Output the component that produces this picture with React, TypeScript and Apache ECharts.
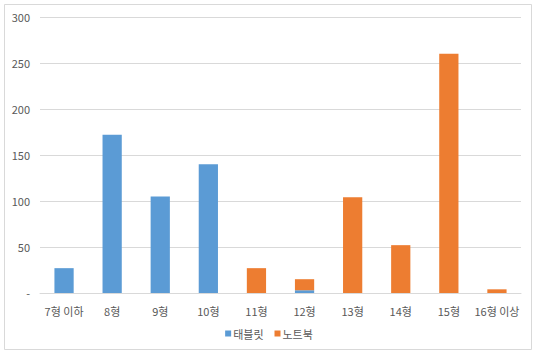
import React, { useEffect, useRef } from "react";
import * as echarts from "echarts";

const categories = ["7형 이하", "8형", "9형", "10형", "11형", "12형", "13형", "14형", "15형", "16형 이상"];
const tabletValues = [27, 172, 105, 140, 0, 3, 0, 0, 0, 0];
const notebookValues = [0, 0, 0, 0, 27, 12, 104, 52, 260, 4];
const seriesNames = ["태블릿", "노트북"];

export default function App() {
  const ref = useRef<HTMLDivElement>(null);
  useEffect(() => {
    const chart = echarts.init(ref.current!, null, { renderer: "svg" });
    const font = "'Malgun Gothic', 'Noto Sans CJK KR', sans-serif";
    chart.setOption({
      animation: false,
      backgroundColor: "#ffffff",
      textStyle: { fontFamily: font },
      graphic: [
        {
          type: "rect",
          shape: { x: 4.5, y: 4.5, width: 527, height: 345 },
          style: { fill: "none", stroke: "#d9d9d9", lineWidth: 1 },
          silent: true,
        },
      ],
      grid: { left: 40, right: 17, top: 17, bottom: 62, containLabel: false },
      legend: {
        data: seriesNames,
        bottom: 11,
        left: "center",
        icon: "rect",
        itemWidth: 6,
        itemHeight: 6,
        itemGap: 11,
        textStyle: { color: "#595959", fontSize: 11, fontFamily: font, padding: [0, 0, 0, -3] },
      },
      xAxis: {
        type: "category",
        data: categories,
        axisLine: { lineStyle: { color: "#d9d9d9" } },
        axisTick: { show: false },
        axisLabel: { color: "#595959", fontSize: 11, margin: 12, fontFamily: font, interval: 0 },
      },
      yAxis: {
        type: "value",
        min: 0,
        max: 300,
        interval: 50,
        axisLine: { show: false },
        axisTick: { show: false },
        splitLine: { lineStyle: { color: "#d9d9d9" } },
        axisLabel: {
          color: "#595959",
          fontSize: 11,
          margin: 10,
          fontFamily: font,
          formatter: (v: number) => (v === 0 ? "-" : String(v)),
        },
      },
      series: [
        {
          name: seriesNames[0],
          type: "bar",
          stack: "total",
          data: tabletValues,
          barWidth: "40%",
          itemStyle: { color: "#5b9bd5" },
        },
        {
          name: seriesNames[1],
          type: "bar",
          stack: "total",
          data: notebookValues,
          barWidth: "40%",
          itemStyle: { color: "#ed7d31" },
        },
      ],
    });
    return () => chart.dispose();
  }, []);
  return (
    <div
      ref={ref}
      style={{ position: "absolute", left: 0, top: 0, width: 538, height: 355 }}
    />
  );
}
